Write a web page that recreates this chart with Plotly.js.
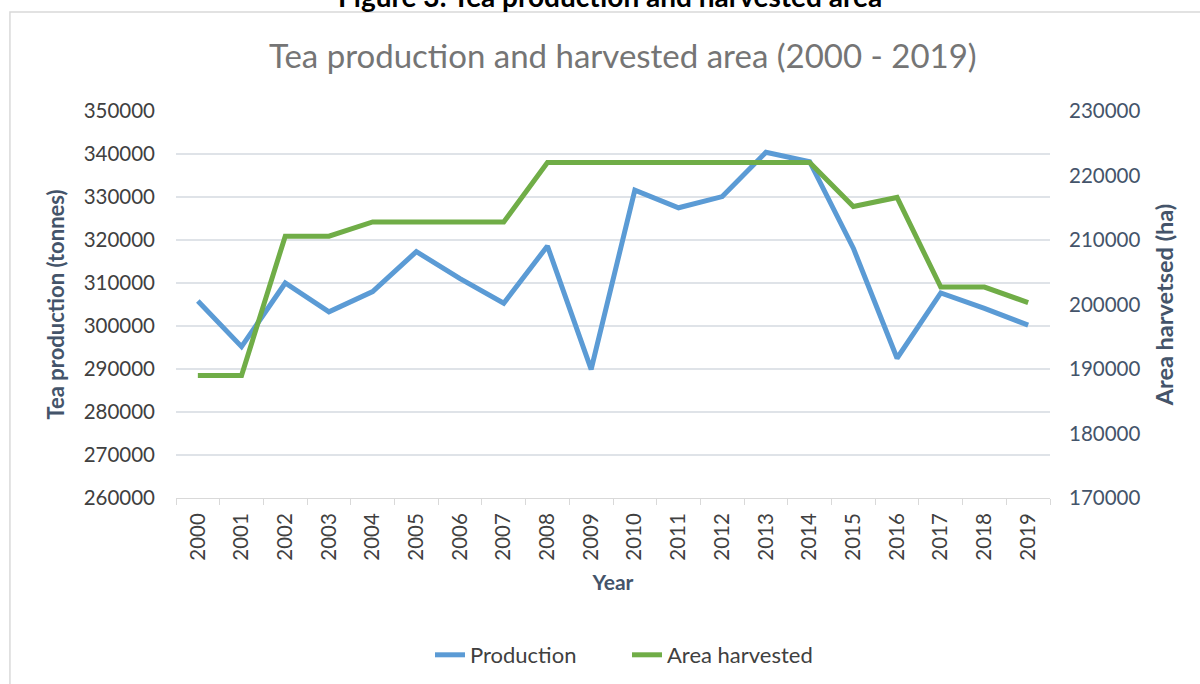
<!DOCTYPE html>
<html>
<head>
<meta charset="utf-8">
<script src="https://cdn.plot.ly/plotly-3.0.1.min.js"></script>
<style>html,body{margin:0;padding:0;background:#fff;}#chart{width:1200px;height:684px;}</style>
</head>
<body>
<div id="chart"></div>
<script>
const years = ["2000","2001","2002","2003","2004","2005","2006","2007","2008","2009","2010","2011","2012","2013","2014","2015","2016","2017","2018","2019"];
const production = [305800,295200,310000,303300,308000,317300,311000,305300,318600,289900,331600,327500,330100,340400,338200,318100,292500,307700,304100,300200];
const areaHarvested = [189000,189000,210600,210600,212800,212800,212800,212800,222000,222000,222000,222000,222000,222000,222000,215200,216600,202700,202700,200300];
const leftTicks = [260000,270000,280000,290000,300000,310000,320000,330000,340000,350000];
const rightTicks = [170000,180000,190000,200000,210000,220000,230000];

const FONT = "Lato, 'Open Sans', sans-serif";
const traces = [
  {x: years, y: production, name: "Production", type: "scatter", mode: "lines",
   line: {color: "#5b9bd5", width: 5}, yaxis: "y"},
  {x: years, y: areaHarvested, name: "Area harvested", type: "scatter", mode: "lines",
   line: {color: "#70ad47", width: 5}, yaxis: "y2"}
];
const layout = {
  width: 1200, height: 684,
  margin: {l: 176, r: 150, t: 111, b: 186},
  paper_bgcolor: "#ffffff", plot_bgcolor: "#ffffff",
  font: {family: FONT, color: "#404040", size: 20.5},
  title: {text: "Tea production and harvested area (2000 - 2019)", x: 0.519, xanchor: "center",
          y: 0.917, yanchor: "middle", font: {family: FONT, size: 33, color: "#757575"}},
  xaxis: {type: "category", range: [-0.5, 19.5], tickvals: years, ticktext: years, tickangle: -90,
          tickson: "boundaries", ticks: "outside", ticklen: 6, tickcolor: "#d9d9d9",
          ticklabelstandoff: 6, automargin: false,
          showline: true, linecolor: "#d9d9d9", linewidth: 1, showgrid: false,
          tickfont: {size: 20.5, color: "#404040"},
          title: {text: "<b>Year</b>", font: {size: 21, color: "#44546a"}, standoff: 15}},
  yaxis: {range: [260000, 350000], tickvals: leftTicks, ticktext: leftTicks.map(String),
          showgrid: true, gridcolor: "#dfe3e8", gridwidth: 1.5, zeroline: false, automargin: false,
          showline: false, ticks: "", ticklabelstandoff: 20, tickfont: {size: 20.5, color: "#404040"},
          title: {text: "<b>Tea production (tonnes)</b>", font: {size: 22, color: "#44546a"}, standoff: 12}},
  yaxis2: {range: [170000, 230000], tickvals: rightTicks, ticktext: rightTicks.map(String),
           overlaying: "y", side: "right", showgrid: false, zeroline: false, showline: false, automargin: false,
           ticks: "", ticklabelstandoff: 18, tickfont: {size: 20.5, color: "#44546a"},
           title: {text: "<b>Area harvetsed (ha)</b>", font: {size: 23.5, color: "#44546a"}, standoff: 17}},
  showlegend: true,
  legend: {orientation: "h", x: 0.516, xanchor: "center", yref: "container", y: 0.0424, yanchor: "middle",
           font: {size: 22, color: "#404040"}, tracegroupgap: 0, entrywidth: 152,
           bgcolor: "rgba(0,0,0,0)"},
  shapes: [
    {type: "rect", xref: "paper", yref: "paper", x0: -0.19, x1: 1.3, y0: -0.6, y1: 1.2558,
     line: {color: "#d9d9d9", width: 1.5}, fillcolor: "rgba(0,0,0,0)", layer: "below"}
  ],
  annotations: [
    {text: "<b>Figure 3: Tea production and harvested area</b>", xref: "paper", yref: "paper",
     x: 0.497, y: 1.2972, xanchor: "center", yanchor: "middle", showarrow: false,
     font: {family: FONT, size: 28, color: "#000000"}}
  ]
};
Plotly.newPlot("chart", traces, layout, {displayModeBar: false, staticPlot: true});
</script>
</body>
</html>
